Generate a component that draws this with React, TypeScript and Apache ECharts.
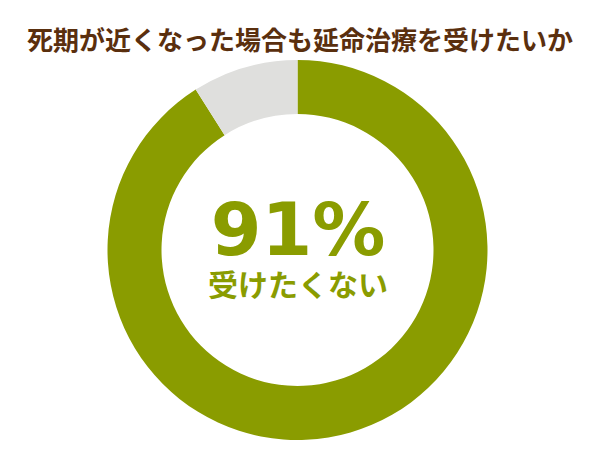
import React, { useEffect, useRef } from "react";
import * as echarts from "echarts";

const titleText = "死期が近くなった場合も延命治療を受けたいか";
const categories = ["受けたくない", "受けたい"];
const values = [91, 9];
const colors = ["#8a9c00", "#dfdfdd"];
const centerValue = "91%";
const centerLabel = "受けたくない";

export default function App() {
  const ref = useRef<HTMLDivElement>(null);
  useEffect(() => {
    document.body.style.margin = "0";
    const chart = echarts.init(ref.current!, null, { renderer: "svg" });
    chart.setOption({
      animation: false,
      backgroundColor: "#ffffff",
      title: {
        text: titleText,
        left: "center",
        top: 20,
        textStyle: {
          color: "#5a2f0e",
          fontSize: 26,
          fontWeight: "bold",
          fontFamily: "Noto Sans CJK JP",
        },
      },
      series: [
        {
          type: "pie",
          center: [297.5, 250],
          radius: [136, 190],
          startAngle: 90,
          clockwise: true,
          silent: true,
          label: { show: false },
          labelLine: { show: false },
          itemStyle: { borderWidth: 0 },
          data: categories.map((c, i) => ({
            name: c,
            value: values[i],
            itemStyle: { color: colors[i] },
          })),
        },
      ],
      graphic: [
        {
          type: "text",
          x: 298,
          y: 229,
          style: {
            text: centerValue,
            fill: "#8a9c00",
            font: "bold 73px 'DejaVu Sans'",
            textAlign: "center",
            textVerticalAlign: "middle",
          },
        },
        {
          type: "text",
          x: 298,
          y: 283,
          style: {
            text: centerLabel,
            fill: "#8a9c00",
            font: "bold 30px 'Noto Sans CJK JP'",
            textAlign: "center",
            textVerticalAlign: "middle",
          },
        },
      ],
    });
    return () => chart.dispose();
  }, []);
  return (
    <div
      ref={ref}
      style={{ position: "absolute", left: 0, top: 0, width: 600, height: 450 }}
    />
  );
}
